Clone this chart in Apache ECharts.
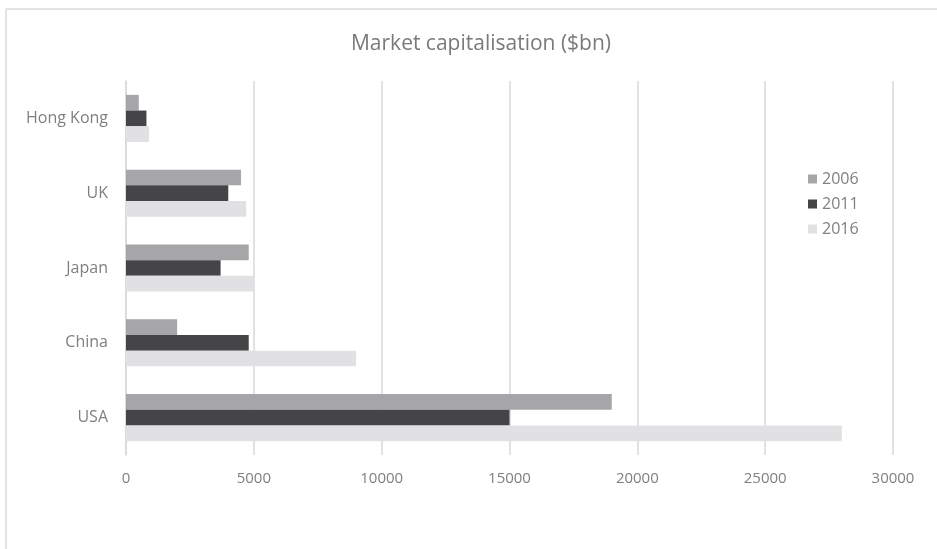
<!DOCTYPE html>
<html>
<head>
<meta charset="utf-8">
<script src="https://cdn.jsdelivr.net/npm/echarts@6/dist/echarts.min.js"></script>
<style>html,body{margin:0;padding:0;background:#fff;}#c{width:937px;height:549px;}</style>
</head>
<body>
<div id="c"></div>
<script>
var categories = ['Hong Kong', 'UK', 'Japan', 'China', 'USA'];
var seriesNames = ['2006', '2011', '2016'];
var values2006 = [500, 4500, 4800, 2000, 19000];
var values2011 = [800, 4000, 3700, 4800, 15000];
var values2016 = [900, 4700, 5000, 9000, 28000];
var xTicks = [0, 5000, 10000, 15000, 20000, 25000, 30000];

var colors = ['#a6a6a8', '#454547', '#e1e1e3'];
var allValues = [values2006, values2011, values2016];
var textColor = '#7f7f7f';

var chart = echarts.init(document.getElementById('c'));
chart.setOption({
  animation: false,
  backgroundColor: '#ffffff',
  title: {
    text: 'Market capitalisation ($bn)',
    left: 476, top: 29, textAlign: 'center',
    textStyle: { fontFamily: 'Open Sans', fontSize: 21, fontWeight: 'normal', color: '#7a7a7a' }
  },
  legend: {
    data: seriesNames,
    orient: 'vertical',
    left: 803, top: 166,
    itemWidth: 9, itemHeight: 9, itemGap: 9,
    icon: 'rect',
    textStyle: { fontFamily: 'Open Sans', fontSize: 16, color: textColor }
  },
  grid: { left: 126, right: 44, top: 81, bottom: 94, containLabel: false },
  xAxis: {
    type: 'value', min: xTicks[0], max: xTicks[xTicks.length - 1], interval: 5000,
    axisLine: { show: false }, axisTick: { show: false },
    axisLabel: { fontFamily: 'Open Sans', fontSize: 15, color: textColor, margin: 16,
      formatter: function (v) { return String(v); } },
    splitLine: { lineStyle: { color: '#d9d9d9', width: 1.5 } }
  },
  yAxis: {
    type: 'category', data: categories, inverse: true,
    axisLine: { show: true, lineStyle: { color: '#d9d9d9', width: 1.5 } },
    axisTick: { show: false },
    axisLabel: { fontFamily: 'Open Sans', fontSize: 16, color: textColor, margin: 18 }
  },
  graphic: [
    { type: 'line', shape: { x1: 6, y1: 9, x2: 6, y2: 549 }, style: { stroke: '#e4e4e4', lineWidth: 2 } },
    { type: 'line', shape: { x1: 6, y1: 9, x2: 937, y2: 9 }, style: { stroke: '#e4e4e4', lineWidth: 2 } }
  ],
  series: seriesNames.map(function (n, i) {
    return {
      name: n, type: 'bar', data: allValues[i],
      barGap: '0%', barCategoryGap: '37%',
      itemStyle: { color: colors[i] }
    };
  })
});
</script>
</body>
</html>
